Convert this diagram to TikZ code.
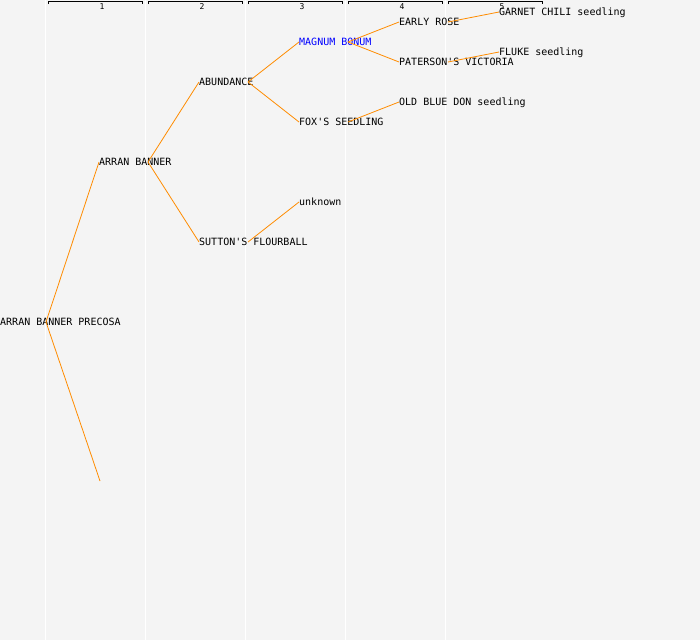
\documentclass[tikz,border=0pt]{standalone}
\usepackage{fontspec}
\setmonofont{DejaVu Sans Mono}
\usetikzlibrary{positioning}
\definecolor{paper}{RGB}{244, 244, 244}
\definecolor{branch}{RGB}{255, 140, 0}
\definecolor{named}{RGB}{0, 0, 255}

\begin{document}
\begin{tikzpicture}[x=1pt, y=-1pt,
    cultivar/.style={anchor=west, inner sep=0pt, text height=7.3pt, text depth=0pt,
      font=\ttfamily\fontsize{10}{12}\selectfont},
    link/.style={draw=branch, line width=0.8pt},
    gen/.style={inner sep=0pt, font=\ttfamily\fontsize{8}{9}\selectfont}]

  \fill[paper] (0, 0) rectangle (700, 640);
  \useasboundingbox (0, 0) rectangle (700, 640);

  % generation columns
  \foreach \g in {1, ..., 5} {
    \draw[white, line width=1pt] ({100*\g - 55}, 0) -- ({100*\g - 55}, 640);
    \draw[black, line width=0.8pt] ({100*\g - 52}, 4) -- ({100*\g - 52}, 1.5)
      -- ({100*\g + 42}, 1.5) -- ({100*\g + 42}, 4);
    \node[gen] (g\g) at ({100*\g + 2}, 6.5) {\g};
  }

  \node[cultivar] (precosa) at (0, 322) {ARRAN BANNER PRECOSA};
  \node[cultivar] (arran) at (99, 162) {ARRAN BANNER};
  \coordinate (blank) at (100, 481);
  \node[cultivar] (abundance) at (199, 82) {ABUNDANCE};
  \node[cultivar] (sutton) at (199, 242) {SUTTON'S FLOURBALL};
  \node[cultivar, text=named] (magnum) at (299, 42) {MAGNUM BONUM};
  \node[cultivar] (fox) at (299, 122) {FOX'S SEEDLING};
  \node[cultivar] (unknown) at (299, 202) {unknown};
  \node[cultivar] (early) at (399, 22) {EARLY ROSE};
  \node[cultivar] (paterson) at (399, 62) {PATERSON'S VICTORIA};
  \node[cultivar] (blue) at (399, 102) {OLD BLUE DON seedling};
  \node[cultivar] (garnet) at (499, 12) {GARNET CHILI seedling};
  \node[cultivar] (fluke) at (499, 52) {FLUKE seedling};

  \draw[link] ([xshift=46pt]precosa.west) -- (arran.west);
  \draw[link] ([xshift=46pt]precosa.west) -- (blank);
  \draw[link] ([xshift=49pt]arran.west) -- (abundance.west);
  \draw[link] ([xshift=49pt]arran.west) -- (sutton.west);
  \draw[link] ([xshift=49pt]abundance.west) -- (magnum.west);
  \draw[link] ([xshift=49pt]abundance.west) -- (fox.west);
  \draw[link] ([xshift=49pt]sutton.west) -- (unknown.west);
  \draw[link] ([xshift=49pt]magnum.west) -- (early.west);
  \draw[link] ([xshift=49pt]magnum.west) -- (paterson.west);
  \draw[link] ([xshift=49pt]fox.west) -- (blue.west);
  \draw[link] ([xshift=49pt]early.west) -- (garnet.west);
  \draw[link] ([xshift=49pt]paterson.west) -- (fluke.west);

\end{tikzpicture}
\end{document}
